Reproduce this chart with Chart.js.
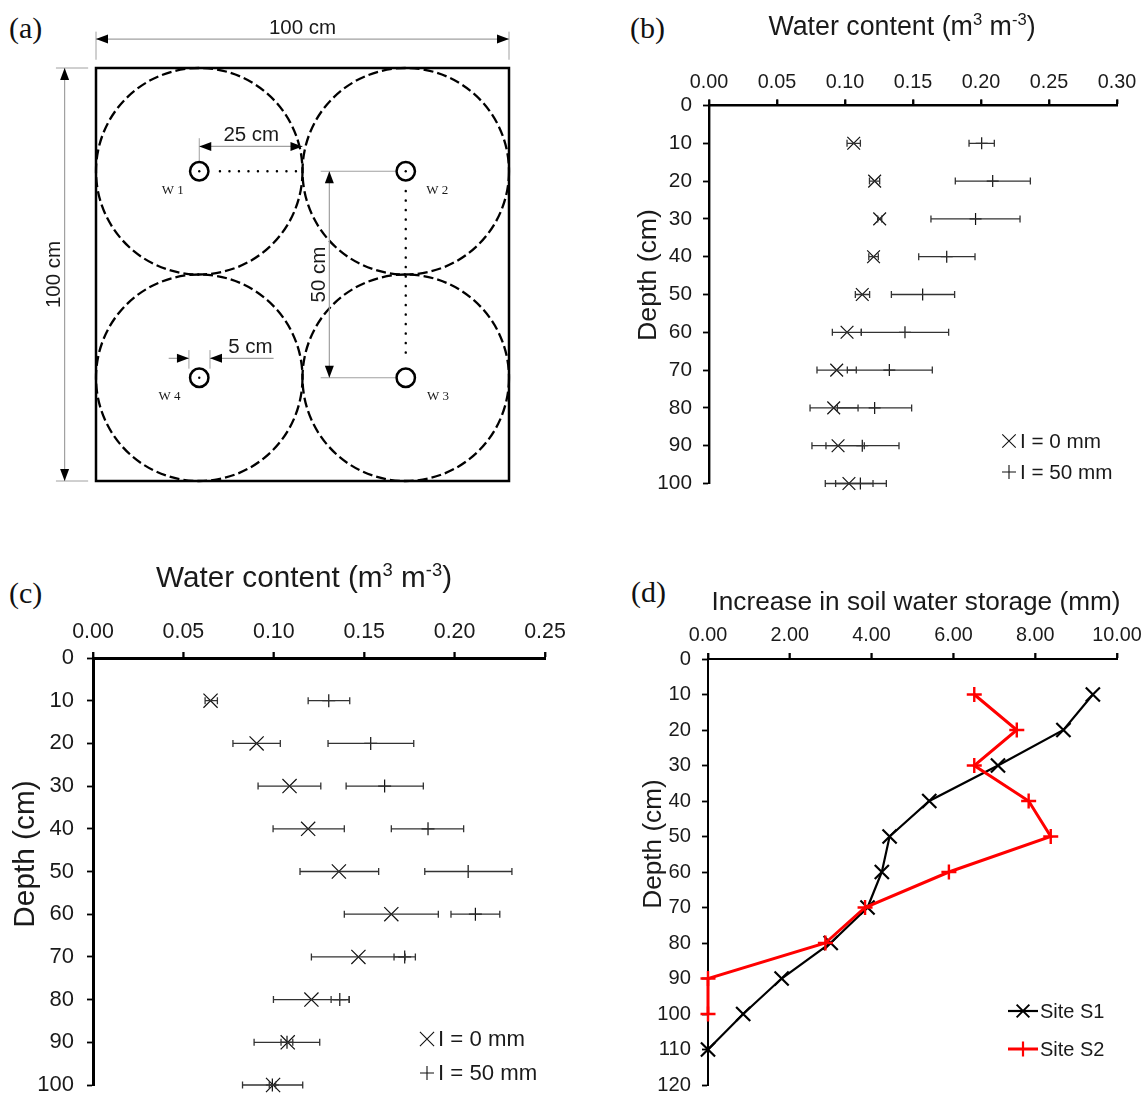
<!DOCTYPE html>
<html><head><meta charset="utf-8">
<style>
html,body{margin:0;padding:0;background:#fff;width:1142px;height:1096px;overflow:hidden}
canvas{position:absolute}
.tag{position:absolute;font-family:"Liberation Serif",serif;font-size:30px;color:#111;line-height:30px}
</style>
<script src="https://cdn.jsdelivr.net/npm/chart.js@4/dist/chart.umd.min.js"></script>
</head><body>
<div class="tag" style="left:9px;top:13px">(a)</div>
<div class="tag" style="left:630px;top:13px">(b)</div>
<div class="tag" style="left:9px;top:578px">(c)</div>
<div class="tag" style="left:631px;top:577px">(d)</div>
<canvas id="a" style="left:0;top:0" width="600" height="510"></canvas>
<canvas id="b" style="left:600px;top:0" width="600" height="530"></canvas>
<canvas id="c" style="left:0;top:530px" width="600" height="620"></canvas>
<canvas id="d" style="left:600px;top:530px" width="600" height="620"></canvas>
<script>
// ---- panel (b) ----
const depthsB = [10,20,30,40,50,60,70,80,90,100];
const b0 = [0.1064,0.1218,0.1255,0.1210,0.1127,0.1015,0.0939,0.0917,0.0949,0.1029];
const b0Low = [0.1015,0.1180,0.1240,0.1175,0.1076,0.0907,0.0794,0.0743,0.0757,0.0855];
const b0High = [0.1113,0.1255,0.1270,0.1245,0.1181,0.1120,0.1083,0.1096,0.1142,0.1206];
const b50 = [0.2005,0.2086,0.1960,0.1748,0.1571,0.1441,0.1326,0.1218,0.1127,0.1113];
const b50Low = [0.1912,0.1811,0.1632,0.1542,0.1341,0.1120,0.1017,0.0944,0.0860,0.0931];
const b50High = [0.2098,0.2363,0.2287,0.1956,0.1806,0.1762,0.1642,0.1490,0.1397,0.1304];
// ---- panel (c) ----
const depthsC = [10,20,30,40,50,60,70,80,90,100];
const c0 = [0.0650,0.0905,0.1087,0.1190,0.1360,0.1650,0.1468,0.1208,0.1077,0.0996];
const c0Low = [0.0620,0.0774,0.0913,0.0996,0.1145,0.1390,0.1208,0.0998,0.0891,0.0827];
const c0High = [0.0688,0.1036,0.1260,0.1390,0.1580,0.1910,0.1726,0.1417,0.1254,0.1160];
const c50 = [0.1304,0.1536,0.1613,0.1853,0.2075,0.2115,0.1724,0.1365,0.1073,0.0992];
const c50Low = [0.1190,0.1300,0.1400,0.1650,0.1835,0.1980,0.1665,0.1317,0.1040,0.0975];
const c50High = [0.1420,0.1774,0.1827,0.2050,0.2317,0.2250,0.1783,0.1417,0.1105,0.1010];
// ---- panel (d) ----
const depthsS1 = [10,20,30,40,50,60,70,80,90,100,110];
const siteS1 = [9.41,8.69,7.09,5.41,4.44,4.25,3.90,3.00,1.80,0.86,0];
const depthsS2 = [10,20,30,40,50,60,70,80,90,100];
const siteS2 = [6.51,7.55,6.51,7.84,8.38,5.89,3.84,2.87,0,0];
// ---- panel (a) schematic, in cm across the plot ----
const wellX = [25,75,75,25];
const wellY = [25,25,75,75];
const wellNames = ["W 1","W 2","W 3","W 4"];
const wellLabelX = [18.6,82.6,82.8,17.8];
const wellLabelY = [29.8,29.8,79.6,79.6];
const wellDotX = [25,75,25];
const wellDotY = [25,25,75];
const circleRadius = 25;

const SANS = '"Liberation Sans",Arial,sans-serif';
const INK = '#1a1a1a';
const pts = (xs, ys) => xs.map((x,i)=>({x, y:ys[i]}));
const seq = (max, step) => { const a=[]; for(let v=0;v<=max;v+=step) a.push(v); return a; };

const errorBars = {
  id:'errorBars',
  afterDatasetsDraw(chart){
    const {ctx, scales:{x,y}} = chart;
    chart.data.datasets.forEach(ds=>{
      if(!ds.errLow) return;
      ctx.save(); ctx.strokeStyle='#333'; ctx.lineWidth=1.3;
      ds.data.forEach((p,i)=>{
        const py=y.getPixelForValue(p.y), l=x.getPixelForValue(ds.errLow[i]), h=x.getPixelForValue(ds.errHigh[i]);
        ctx.beginPath();
        ctx.moveTo(l,py); ctx.lineTo(h,py);
        ctx.moveTo(l,py-3.5); ctx.lineTo(l,py+3.5);
        ctx.moveTo(h,py-3.5); ctx.lineTo(h,py+3.5);
        ctx.stroke();
      });
      ctx.restore();
    });
  }
};

function textRun(ctx, segs, size){
  let total=0;
  segs.forEach(s=>{ ctx.font=(s[1]?size*0.62:size)+'px '+SANS; total+=ctx.measureText(s[0]).width; });
  let x=-total/2;
  ctx.textAlign='left'; ctx.textBaseline='alphabetic';
  segs.forEach(s=>{
    ctx.font=(s[1]?size*0.62:size)+'px '+SANS;
    ctx.fillText(s[0],x,s[1]?size*0.35-size*0.38:size*0.35);
    x+=ctx.measureText(s[0]).width;
  });
}

function decorations(cfg){
  return { id:'decor', afterDraw(chart){
    const ctx=chart.ctx; ctx.save(); ctx.fillStyle=INK;
    // tick marks above the top axis
    const sx=chart.scales.x, top=chart.chartArea.top;
    ctx.strokeStyle='#000'; ctx.lineWidth=1.8;
    sx.ticks.forEach(t=>{ const px=sx.getPixelForValue(t.value); ctx.beginPath(); ctx.moveTo(px,top); ctx.lineTo(px,top-6); ctx.stroke(); });
    cfg.texts.forEach(t=>{
      ctx.save(); ctx.translate(t.x,t.y); if(t.rot) ctx.rotate(t.rot);
      textRun(ctx,t.segs,t.size); ctx.restore();
    });
    cfg.legend.forEach(l=>{
      if(l.line){ ctx.strokeStyle=l.color; ctx.lineWidth=l.lw; ctx.beginPath(); ctx.moveTo(l.x-15,l.y); ctx.lineTo(l.x+15,l.y); ctx.stroke(); }
      ctx.strokeStyle=l.color; ctx.lineWidth=l.mw;
      Chart.helpers.drawPoint(ctx,{pointStyle:l.style,radius:l.r,rotation:0,borderWidth:l.mw},l.x,l.y);
      ctx.fillStyle=INK; ctx.font=cfg.legendSize+'px '+SANS; ctx.textAlign='left'; ctx.textBaseline='middle';
      ctx.fillText(l.text,l.tx,l.y+1);
    });
    ctx.restore();
  }};
}

function profile(id, o){
  new Chart(document.getElementById(id),{
    type:'scatter',
    data:{datasets:o.datasets},
    options:{
      responsive:false, animation:false, events:[],
      layout:{padding:o.padding},
      plugins:{legend:{display:false},tooltip:{enabled:false},title:{display:false}},
      scales:{
        x:{type:'linear',position:'top',min:0,max:o.xMax,
          afterBuildTicks(s){ s.ticks=o.xTicks.map(v=>({value:v})); },
          afterFit(s){ s.height=o.topH; },
          border:{color:'#000',width:o.axisW},
          grid:{drawOnChartArea:false,drawTicks:true,tickLength:6,tickColor:'#000',tickWidth:1.8},
          ticks:{color:INK,font:{family:SANS,size:o.xTickSize},padding:o.xPad,maxRotation:0,autoSkip:false,callback:v=>v.toFixed(2)}},
        y:{type:'linear',reverse:true,min:0,max:o.yMax,
          afterBuildTicks(s){ s.ticks=o.yTicks.map(v=>({value:v})); },
          afterFit(s){ s.width=o.leftW; },
          border:{color:'#000',width:o.axisW},
          grid:{drawOnChartArea:false,drawTicks:true,tickLength:6,tickColor:'#000',tickWidth:1.8},
          ticks:{color:INK,font:{family:SANS,size:o.yTickSize},padding:o.yPad,autoSkip:false,callback:v=>String(v)}}
      }
    },
    plugins:[errorBars,decorations(o.decor)]
  });
}

const mark = (label,xs,ys,low,high,style,r) => ({label,data:pts(xs,ys),errLow:low,errHigh:high,clip:false,
  showLine:false,pointStyle:style,pointRadius:r,pointBorderWidth:1.2,borderColor:'#111',backgroundColor:'transparent'});
const UP=-Math.PI/2;
const WC=[["Water content (m",0],["3",1],[" m",0],["-3",1],[")",0]];

// chart area (b): x 709..1117, y 105..483 ; canvas origin (600,0)
profile('b',{
  xMax:0.30,yMax:100,xTicks:[0,0.05,0.10,0.15,0.20,0.25,0.30],yTicks:seq(100,10),
  padding:{left:29,right:83,top:45.5,bottom:46.5},topH:60,leftW:80,axisW:2.4,xTickSize:19.8,yTickSize:20.8,xPad:5,yPad:11,
  datasets:[mark('I = 0 mm',b0,depthsB,b0Low,b0High,'crossRot',9),mark('I = 50 mm',b50,depthsB,b50Low,b50High,'cross',6)],
  decor:{texts:[{segs:WC,size:26.8,x:302,y:26},{segs:[["Depth (cm)",0]],size:26.7,x:47,y:275,rot:UP}],
    legendSize:20.7,legend:[
      {style:'crossRot',r:9.5,mw:1.1,color:'#111',x:409,y:441,tx:420,text:'I = 0 mm'},
      {style:'cross',r:7,mw:1.1,color:'#111',x:409,y:472,tx:420,text:'I = 50 mm'}]}
});
// chart area (c): x 93..545, y 658..1085 ; canvas origin (0,530)
profile('c',{
  xMax:0.25,yMax:100,xTicks:[0,0.05,0.10,0.15,0.20,0.25],yTicks:seq(100,10),
  padding:{left:13,right:55,top:68,bottom:65},topH:60,leftW:80,axisW:3,xTickSize:21.4,yTickSize:22,xPad:7,yPad:13,
  datasets:[mark('I = 0 mm',c0,depthsC,c0Low,c0High,'crossRot',10),mark('I = 50 mm',c50,depthsC,c50Low,c50High,'cross',6.5)],
  decor:{texts:[{segs:WC,size:29.7,x:304,y:47},{segs:[["Depth (cm)",0]],size:29.8,x:24,y:324,rot:UP}],
    legendSize:22.2,legend:[
      {style:'crossRot',r:10,mw:1.1,color:'#111',x:427,y:509,tx:438,text:'I = 0 mm'},
      {style:'cross',r:7,mw:1.1,color:'#111',x:427,y:543,tx:438,text:'I = 50 mm'}]}
});
// chart area (d): x 708..1117, y 659..1085 ; canvas origin (600,530)
profile('d',{
  xMax:10,yMax:120,xTicks:[0,2,4,6,8,10],yTicks:seq(120,10),
  padding:{left:28,right:83,top:69,bottom:65},topH:60,leftW:80,axisW:2,xTickSize:19.8,yTickSize:20.2,xPad:6,yPad:11,
  datasets:[
   {label:'Site S2',data:pts(siteS2,depthsS2),clip:false,showLine:true,borderColor:'#ff0000',borderWidth:3,pointStyle:'cross',pointRadius:7.5,pointBorderWidth:2.4,pointBorderColor:'#ff0000',backgroundColor:'transparent',tension:0},
   {label:'Site S1',data:pts(siteS1,depthsS1),clip:false,showLine:true,borderColor:'#000',borderWidth:2.2,pointStyle:'crossRot',pointRadius:10,pointBorderWidth:2.2,pointBorderColor:'#000',backgroundColor:'transparent',tension:0}
  ],
  decor:{texts:[{segs:[["Increase in soil water storage (mm)",0]],size:26.2,x:316,y:71},{segs:[["Depth (cm)",0]],size:26.2,x:52,y:314,rot:UP}],
    legendSize:20,legend:[
      {style:'crossRot',r:9,mw:2,lw:2.2,line:true,color:'#000',x:423,y:481,tx:440,text:'Site S1'},
      {style:'cross',r:7.5,mw:2.2,lw:3,line:true,color:'#ff0000',x:423,y:519,tx:440,text:'Site S2'}]}
});

// schematic (a): plot area x 96..509, y 68..481
const schematic = { id:'schematic',
  beforeDatasetsDraw(chart){
    const {ctx,scales:{x,y}}=chart;
    const X=v=>x.getPixelForValue(v), Y=v=>y.getPixelForValue(v);
    const line=(x1,y1,x2,y2,c,w,dash)=>{ctx.save();ctx.strokeStyle=c;ctx.lineWidth=w;ctx.setLineDash(dash||[]);if(dash)ctx.lineCap='round';ctx.beginPath();ctx.moveTo(X(x1),Y(y1));ctx.lineTo(X(x2),Y(y2));ctx.stroke();ctx.restore();};
    const head=(xt,yt,dx,dy)=>{const px=X(xt),py=Y(yt),L=12,H=4.5;ctx.save();ctx.fillStyle='#000';ctx.beginPath();ctx.moveTo(px,py);ctx.lineTo(px+dx*L-dy*H,py+dy*L-dx*H);ctx.lineTo(px+dx*L+dy*H,py+dy*L+dx*H);ctx.closePath();ctx.fill();ctx.restore();};
    const label=(t,xv,yv,size,rot,font)=>{ctx.save();ctx.translate(X(xv),Y(yv));if(rot)ctx.rotate(rot);ctx.fillStyle=INK;ctx.font=size+'px '+(font||SANS);ctx.textAlign='center';ctx.textBaseline='middle';ctx.fillText(t,0,0);ctx.restore();};
    const G='#a0a0a0';
    ctx.save();ctx.strokeStyle='#000';ctx.lineWidth=2.5;ctx.strokeRect(X(0),Y(0),X(100)-X(0),Y(100)-Y(0));ctx.restore();
    wellX.forEach((cx,i)=>{ctx.save();ctx.strokeStyle='#000';ctx.lineWidth=2.3;ctx.setLineDash([10,4]);ctx.beginPath();ctx.arc(X(cx),Y(wellY[i]),X(circleRadius)-X(0),0,Math.PI*2);ctx.stroke();ctx.restore();});
    line(0,-8.8,0,-2,G,1);line(100,-8.8,100,-2,G,1);line(0,-7,100,-7,G,1.2);head(0,-7,1,0);head(100,-7,-1,0);
    label('100 cm',50,-9.5,20.5);
    line(-9.7,0,-1.9,0,G,1);line(-9.7,100,-1.9,100,G,1);line(-7.6,0,-7.6,100,G,1.2);head(-7.6,0,0,1);head(-7.6,100,0,-1);
    label('100 cm',-10,50,20.5,UP);
    line(25,17,25,22.5,G,1);line(25,19,50,19,G,1.2);head(25,19,1,0);head(50,19,-1,0);
    label('25 cm',37.6,16.2,20.5);
    line(30,25,48.5,25,'#000',2.4,[0.1,9.4]);
    line(54.4,25,72.5,25,G,1.2);line(54.4,75,72.5,75,G,1.2);line(56.5,25,56.5,75,G,1.2);head(56.5,25,0,1);head(56.5,75,0,-1);
    label('50 cm',54,50,20.5,UP);
    line(75,29.8,75,70.4,'#000',2.4,[0.1,9.4]);
    line(22.5,68.3,22.5,72.8,G,1);line(27.6,68.3,27.6,72.8,G,1);line(17.6,70.3,22.5,70.3,G,1.2);line(27.6,70.3,43,70.3,G,1.2);head(22.5,70.3,-1,0);head(27.6,70.3,1,0);
    label('5 cm',37.4,67.6,20.5);
    wellNames.forEach((n,i)=>label(n,wellLabelX[i],wellLabelY[i],13,0,'"Liberation Serif",serif'));
  }
};
new Chart(document.getElementById('a'),{
  type:'scatter',
  data:{datasets:[
    {label:'Well centres',data:pts(wellDotX,wellDotY),pointStyle:'circle',pointRadius:1.2,pointBorderWidth:0,borderColor:'#000',backgroundColor:'#000',showLine:false},
    {label:'Wells',data:pts(wellX,wellY),pointStyle:'circle',pointRadius:9.2,pointBorderWidth:2.5,borderColor:'#000',backgroundColor:'#fff',showLine:false}
  ]},
  options:{responsive:false,animation:false,events:[],layout:{padding:{left:96,right:91,top:68,bottom:29}},
    plugins:{legend:{display:false},tooltip:{enabled:false}},
    scales:{x:{type:'linear',display:false,min:0,max:100},y:{type:'linear',display:false,reverse:true,min:0,max:100}}},
  plugins:[schematic]
});
</script>
</body></html>
